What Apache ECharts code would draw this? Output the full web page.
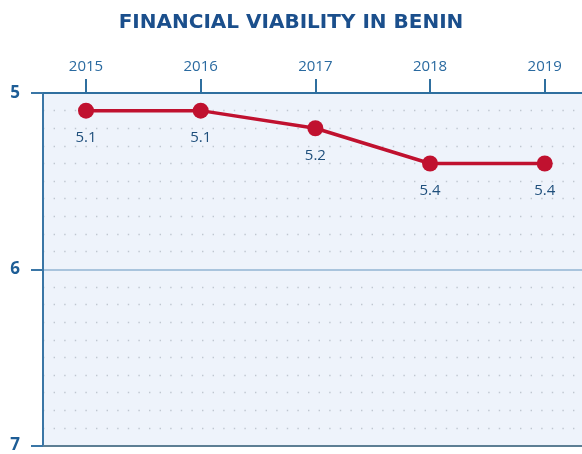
<!DOCTYPE html>
<html>
<head>
<meta charset="utf-8">
<script src="https://cdn.jsdelivr.net/npm/echarts@6/dist/echarts.min.js"></script>
<style>
  html, body { margin: 0; padding: 0; background: #fff; }
  #chart { width: 582px; height: 454px; }
</style>
</head>
<body>
<div id="chart"></div>
<script>
  // data
  const years = [2015, 2016, 2017, 2018, 2019]
  const scores = [5.1, 5.1, 5.2, 5.4, 5.4]
  const yTicks = [5, 6, 7]

  const chart = echarts.init(document.getElementById('chart'))

  const points = years.map((y, i) => [y, scores[i]])

  chart.setOption({
    animation: false,
    title: {
      text: 'FINANCIAL VIABILITY IN BENIN',
      left: 'center',
      top: 8,
      textStyle: {
        fontFamily: 'DejaVu Sans',
        fontWeight: 'bold',
        fontSize: 20,
        color: '#1b4f8c'
      }
    },
    grid: {
      left: 43, top: 93, right: 0, bottom: 5,
      show: true,
      backgroundColor: '#eef3fb',
      borderWidth: 0
    },
    xAxis: [
      {
        type: 'value',
        position: 'top',
        min: 2014.625,
        max: 2019.325,
        axisLine: { show: true, lineStyle: { color: '#2f6f9f', width: 2 } },
        axisTick: {
          show: true, length: 14, inside: false,
          customValues: years,
          lineStyle: { color: '#2f6f9f', width: 2 }
        },
        axisLabel: {
          customValues: years,
          margin: 19,
          fontFamily: 'Open Sans',
          fontSize: 15,
          color: '#2a6aa0',
          formatter: v => String(v)
        },
        splitLine: { show: false }
      },
      {
        type: 'value',
        position: 'bottom',
        min: 2014.625,
        max: 2019.325,
        axisLine: { show: true, lineStyle: { color: '#5d7e94', width: 2 } },
        axisTick: { show: false },
        axisLabel: { show: false },
        splitLine: { show: false }
      }
    ],
    yAxis: {
      type: 'value',
      inverse: true,
      min: yTicks[0],
      max: yTicks[yTicks.length - 1],
      interval: 1,
      axisLine: { show: true, lineStyle: { color: '#3a76a6', width: 2 } },
      axisTick: { show: true, length: 12, lineStyle: { color: '#3a76a6', width: 2 } },
      axisLabel: {
        margin: 23,
        fontFamily: 'Open Sans',
        fontWeight: 'bold',
        fontSize: 17,
        color: '#1d5d96'
      },
      splitLine: { show: true, lineStyle: { color: '#a9c4dd', width: 2 } },
      minorTick: { show: false, splitNumber: 10 },
      minorSplitLine: {
        show: true,
        lineStyle: { color: '#bfc6d0', width: 1.4, type: [1.4, 9.2] }
      }
    },
    series: [
      {
        type: 'line',
        data: points,
        symbol: 'circle',
        symbolSize: 16,
        lineStyle: { color: '#c0112f', width: 3.5 },
        itemStyle: { color: '#c0112f' },
        label: {
          show: true,
          position: 'bottom',
          distance: 12,
          fontFamily: 'Open Sans',
          fontSize: 15,
          color: '#1f4f7c',
          formatter: p => p.value[1].toFixed(1)
        }
      }
    ]
  })
</script>
</body>
</html>
